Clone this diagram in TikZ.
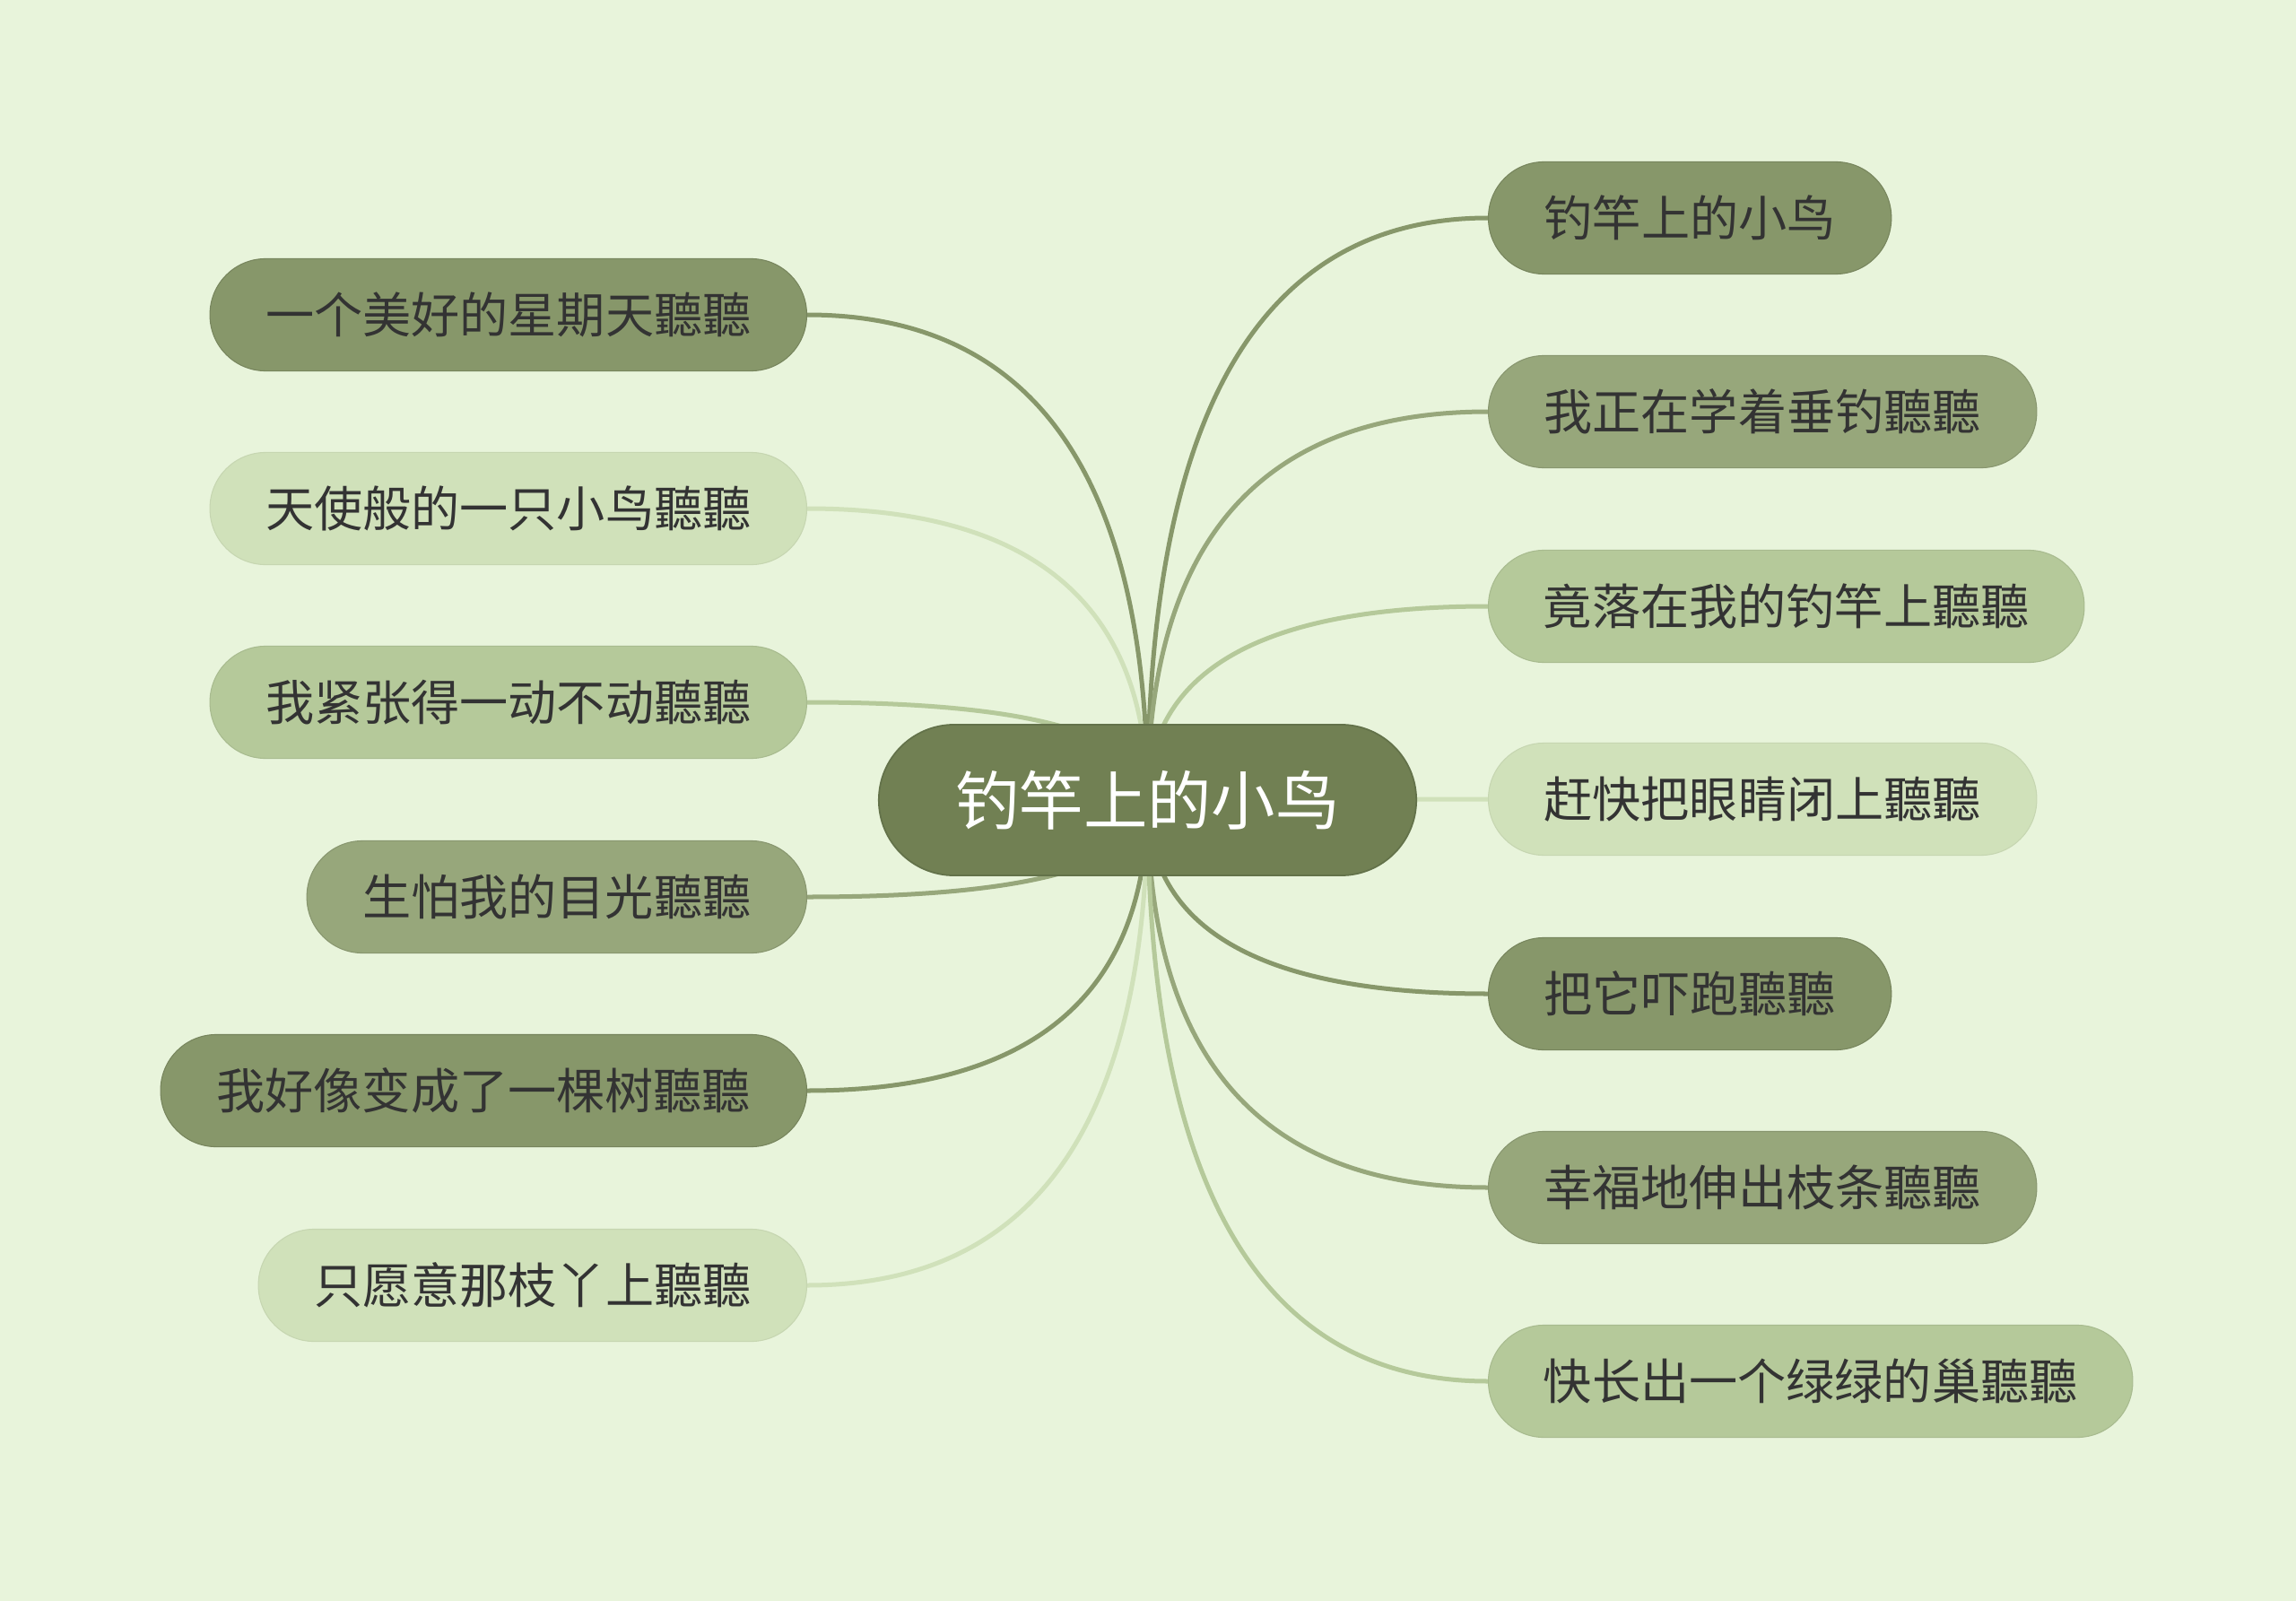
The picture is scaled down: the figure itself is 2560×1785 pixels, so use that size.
\documentclass[tikz,border=0pt]{standalone}
\usepackage{fontspec}
\newfontfamily\cjk{Noto Sans CJK SC}
\usetikzlibrary{calc}
\definecolor{bgc}{HTML}{E8F4DB}
\definecolor{rootc}{HTML}{718053}
\definecolor{rootd}{HTML}{63724A}
\definecolor{cdark}{HTML}{87976A}
\definecolor{cmdark}{HTML}{97A77B}
\definecolor{cmed}{HTML}{B5C99A}
\definecolor{clight}{HTML}{D0E1BA}
\definecolor{txt}{HTML}{333333}
\pgfdeclarelayer{bgl}
\pgfdeclarelayer{edgel}
\pgfsetlayers{bgl,edgel,main}
\newcommand\mmedge[3]{%
  \coordinate (q#1) at (root.center |- #1.#2);
  \draw[mmline, draw=#3] (root.center) .. controls ($(root.center)!0.6667!(q#1)$) and ($(#1.#2)!0.6667!(q#1)$) .. (#1.#2);}
\begin{document}
\begin{tikzpicture}[x=0.01cm, y=-0.01cm,
  leaf/.style={rectangle, rounded corners=0.62cm, minimum height=1.25cm, inner xsep=0pt,
    text=txt, line width=0.3pt, font={\cjk\fontsize{15.4pt}{18pt}\selectfont}},
  lft/.style={leaf, anchor=east},
  rgt/.style={leaf, anchor=west},
  kdark/.style={fill=cdark, draw=cdark!88!black},
  kmdark/.style={fill=cmdark, draw=cmdark!90!black},
  kmed/.style={fill=cmed, draw=cmed!93!black},
  klight/.style={fill=clight, draw=clight!95!black},
  rootbox/.style={rectangle, rounded corners=0.84cm, minimum height=1.68cm, minimum width=5.99cm,
    fill=rootc, draw=rootd, line width=0.5pt, text=white, font={\cjk\fontsize{20.3pt}{24pt}\selectfont}},
  mmline/.style={line width=0.05cm, line cap=round}]
\begin{pgfonlayer}{bgl}
\path[use as bounding box, fill=bgc] (0,0) rectangle (2560,1785);
\end{pgfonlayer}

\node[rootbox] (root) at (1279.5,892) {钓竿上的小鸟};

\node[lft, kdark,  minimum width=6.65cm] (l1) at (900,351)  {一个美好的星期天聽聽};
\node[lft, klight, minimum width=6.65cm] (l2) at (900,567)  {天使般的一只小鸟聽聽};
\node[lft, kmed,   minimum width=6.65cm] (l3) at (900,783)  {我紧张得一动不动聽聽};
\node[lft, kmdark, minimum width=5.57cm] (l4) at (900,1000) {生怕我的目光聽聽};
\node[lft, kdark,  minimum width=7.20cm] (l5) at (900,1216) {我好像变成了一棵树聽聽};
\node[lft, klight, minimum width=6.11cm] (l6) at (900,1433) {只愿意那枝丫上聽聽};

\node[rgt, kdark,  minimum width=4.49cm] (r1) at (1659,243)  {钓竿上的小鸟};
\node[rgt, kmdark, minimum width=6.11cm] (r2) at (1659,459)  {我正在学着垂钓聽聽};
\node[rgt, kmed,   minimum width=6.64cm] (r3) at (1659,676)  {竟落在我的钓竿上聽聽};
\node[rgt, klight, minimum width=6.11cm] (r4) at (1659,891)  {赶快把眼睛闭上聽聽};
\node[rgt, kdark,  minimum width=4.49cm] (r5) at (1659,1108) {把它吓跑聽聽};
\node[rgt, kmdark, minimum width=6.11cm] (r6) at (1659,1324) {幸福地伸出枝条聽聽};
\node[rgt, kmed,   minimum width=7.18cm] (r7) at (1659,1540) {快长出一个绿绿的巢聽聽};

\begin{pgfonlayer}{edgel}
\mmedge{l1}{east}{cdark}
\mmedge{l2}{east}{clight}
\mmedge{l3}{east}{cmed}
\mmedge{l4}{east}{cmdark}
\mmedge{l5}{east}{cdark}
\mmedge{l6}{east}{clight}
\mmedge{r1}{west}{cdark}
\mmedge{r2}{west}{cmdark}
\mmedge{r3}{west}{cmed}
\mmedge{r4}{west}{clight}
\mmedge{r5}{west}{cdark}
\mmedge{r6}{west}{cmdark}
\mmedge{r7}{west}{cmed}
\end{pgfonlayer}
\end{tikzpicture}
\end{document}
